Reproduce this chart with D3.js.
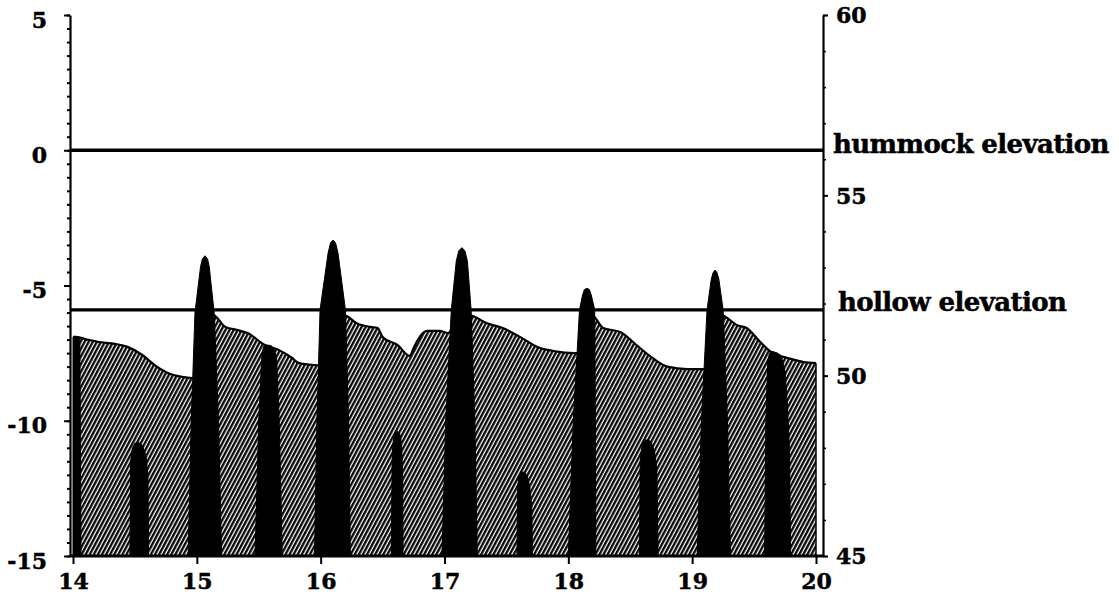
<!DOCTYPE html>
<html>
<head>
<meta charset="utf-8">
<script src="https://cdn.jsdelivr.net/npm/d3@7"></script>
<style>
  body { margin: 0; background: #fff; }
  svg text { font-family: "DejaVu Serif", serif; font-weight: bold; fill: #000; stroke: #000; stroke-width: 0.5px; }
</style>
</head>
<body>
<svg id="fig" width="1119" height="596"></svg>
<script>

// water table (hatched), left axis units
var tableDays   = [14.0, 14.02, 14.10, 14.20, 14.34, 14.44, 14.56, 14.66, 14.77, 14.88, 14.96, 15.04, 15.10,
                   15.15, 15.23, 15.33, 15.41, 15.55, 15.66, 15.77, 15.82, 15.95, 16.0, 16.12,
                   16.21, 16.29, 16.40, 16.46, 16.50, 16.62, 16.72, 16.75, 16.80, 16.86, 16.96, 17.03, 17.12,
                   17.23, 17.34, 17.47, 17.61, 17.75, 17.88, 18.05, 18.10, 18.17,
                   18.21, 18.28, 18.42, 18.55, 18.68, 18.80, 18.96, 19.09, 19.12, 19.22,
                   19.27, 19.36, 19.44, 19.55, 19.65, 19.77, 19.90, 20.0];
var tableLevels = [-6.9, -6.9, -6.98, -7.08, -7.16, -7.27, -7.57, -7.94, -8.24, -8.38, -8.42, -8.4, -6.0,
                   -6.13, -6.53, -6.65, -6.76, -7.2, -7.38, -7.68, -7.86, -7.94, -7.95, -6.05,
                   -6.13, -6.39, -6.53, -6.57, -6.9, -7.2, -7.6, -7.31, -6.9, -6.68, -6.68, -6.76, -6.05,
                   -6.13, -6.39, -6.57, -6.9, -7.27, -7.42, -7.5, -7.5, -6.05,
                   -6.16, -6.57, -6.72, -7.2, -7.68, -8.0, -8.09, -8.09, -8.09, -6.05,
                   -6.16, -6.46, -6.57, -7.09, -7.5, -7.68, -7.83, -7.87];

// black spikes, left axis units (-15 = floor)
var spikeDays   = [14.0, 14.055, 14.065,
                   14.46, 14.465, 14.48, 14.50, 14.53, 14.56, 14.59, 14.605, 14.61,
                   14.93, 14.955, 14.985, 15.03, 15.045, 15.066, 15.087, 15.10, 15.14, 15.175, 15.2,
                   15.47, 15.50, 15.525, 15.54, 15.56, 15.60, 15.63, 15.645, 15.665, 15.69,
                   15.95, 15.97, 15.995, 16.06, 16.08, 16.10, 16.12, 16.14, 16.20, 16.225, 16.24,
                   16.57, 16.578, 16.59, 16.605, 16.625, 16.645, 16.655, 16.662, 16.665,
                   16.98, 17.01, 17.055, 17.095, 17.115, 17.14, 17.165, 17.185, 17.215, 17.245, 17.265,
                   17.585, 17.59, 17.60, 17.62, 17.645, 17.67, 17.69, 17.705, 17.71,
                   18.0, 18.04, 18.09, 18.115, 18.13, 18.15, 18.17, 18.185, 18.213, 18.218, 18.222,
                   18.575, 18.58, 18.595, 18.62, 18.645, 18.67, 18.695, 18.715, 18.725,
                   19.04, 19.075, 19.12, 19.155, 19.17, 19.185, 19.20, 19.215, 19.25, 19.285, 19.31,
                   19.585, 19.595, 19.61, 19.625, 19.645, 19.69, 19.72, 19.75, 19.77, 19.785, 19.795];
var spikeLevels = [-6.9, -6.95, -15,
                   -15, -11.5, -11.0, -10.83, -10.8, -10.9, -11.3, -12, -15,
                   -15, -10, -6, -4.3, -4.02, -3.9, -4.02, -4.3, -6, -10, -15,
                   -15, -10, -7.6, -7.25, -7.2, -7.22, -7.4, -7.8, -10, -15,
                   -15, -10, -5.9, -3.8, -3.42, -3.32, -3.42, -3.8, -5.9, -10, -15,
                   -15, -11.2, -10.6, -10.42, -10.4, -10.55, -11.0, -12, -15,
                   -15, -10, -5.9, -4.1, -3.72, -3.6, -3.72, -4.1, -5.9, -10, -15,
                   -15, -12.5, -12.05, -11.9, -11.9, -12.05, -12.5, -13.2, -15,
                   -15, -10, -5.9, -5.35, -5.15, -5.1, -5.15, -5.35, -5.9, -10, -15,
                   -15, -11.5, -10.9, -10.72, -10.7, -10.8, -11.1, -11.8, -15,
                   -15, -10, -5.9, -4.75, -4.52, -4.43, -4.52, -4.75, -5.9, -10, -15,
                   -15, -10, -7.8, -7.5, -7.43, -7.5, -7.6, -8.2, -9.5, -11, -15];

var refLevels = [0, -5.9];
var refLabels = ["hummock elevation", "hollow elevation"];

var leftTicks  = [-15, -10, -5, 0, 5];
var rightTicks = [45, 50, 55, 60];
var dayTicks   = [14, 15, 16, 17, 18, 19, 20];

var svg = d3.select("#fig");

var x  = d3.scaleLinear().domain([14, 20]).range([73, 816]);
var yL = d3.scaleLinear().domain([-15, 5]).range([556, 15]);
var yR = d3.scaleLinear().domain([45, 60]).range([556, 15]);

var leftX = 70, rightX = 823;

// hatch pattern
var defs = svg.append("defs");
var pat = defs.append("pattern")
    .attr("id", "hatch")
    .attr("patternUnits", "userSpaceOnUse")
    .attr("width", 3.6).attr("height", 10)
    .attr("patternTransform", "rotate(28)");
pat.append("rect").attr("width", 3.6).attr("height", 10).attr("fill", "#fff");
pat.append("line").attr("x1", 1.2).attr("y1", 0).attr("x2", 1.2).attr("y2", 10)
    .attr("stroke", "#000").attr("stroke-width", 2.3);

var table = tableDays.map(function(d, i){ return [d, tableLevels[i]]; });
var spikes = spikeDays.map(function(d, i){ return [d, spikeLevels[i]]; });

var tableArea = d3.area()
    .x(function(d){ return x(d[0]); })
    .y0(yL(-15))
    .y1(function(d){ return yL(d[1]); })
    .curve(d3.curveMonotoneX);

svg.append("path").datum(table)
    .attr("d", tableArea)
    .attr("fill", "url(#hatch)");

svg.append("path").datum(table)
    .attr("d", tableArea.lineY1())
    .attr("fill", "none").attr("stroke", "#000").attr("stroke-width", 2.2);

// right edge of hatched block
svg.append("line")
    .attr("x1", x(20)).attr("x2", x(20))
    .attr("y1", yL(tableLevels[tableLevels.length - 1])).attr("y2", yL(-15))
    .attr("stroke", "#000").attr("stroke-width", 1.5);

var spikeArea = d3.area()
    .x(function(d){ return x(d[0]); })
    .y0(yL(-15))
    .y1(function(d){ return yL(d[1]); })
    .curve(d3.curveLinear);

svg.append("path").datum(spikes)
    .attr("d", spikeArea)
    .attr("fill", "#000")
    .attr("stroke", "#000").attr("stroke-width", 1).attr("stroke-linejoin", "round");

// reference lines + labels
refLevels.forEach(function(v, i){
    svg.append("line")
        .attr("x1", leftX).attr("x2", rightX)
        .attr("y1", yL(v)).attr("y2", yL(v))
        .attr("stroke", "#000").attr("stroke-width", 3.4);
});
svg.append("text").attr("x", 833).attr("y", 153)
    .style("font-size", "26px").style("letter-spacing", "-0.6px")
    .text(refLabels[0]);
svg.append("text").attr("x", 838).attr("y", 311)
    .style("font-size", "26px").style("letter-spacing", "-0.6px")
    .text(refLabels[1]);

// left axis
var gL = svg.append("g").attr("transform", "translate(" + leftX + ",0)");
gL.call(d3.axisLeft(yL).tickValues(d3.range(-15, 5.01, 0.5)).tickSize(3).tickSizeOuter(0).tickFormat(""));
gL.selectAll(".tick line").attr("stroke-width", 2);
gL.select(".domain").attr("stroke-width", 2.2);
var gL2 = svg.append("g").attr("transform", "translate(" + leftX + ",0)");
gL2.call(d3.axisLeft(yL).tickValues(leftTicks).tickSize(6).tickPadding(17).tickSizeOuter(0)
    .tickFormat(function(d){ return String(d); }));
gL2.select(".domain").remove();
gL2.selectAll(".tick line").attr("stroke-width", 2);
gL2.selectAll(".tick text")
    .attr("dy", "0.55em")
    .style("font-size", "22px");

// right axis
var gR = svg.append("g").attr("transform", "translate(" + rightX + ",0)");
gR.call(d3.axisRight(yR).tickValues(d3.range(45, 60.01, 1)).tickSize(3).tickSizeOuter(0).tickFormat(""));
gR.select(".domain").attr("stroke-width", 2.2);
gR.selectAll(".tick line").attr("stroke-width", 1.5);
var gR2 = svg.append("g").attr("transform", "translate(" + rightX + ",0)");
gR2.call(d3.axisRight(yR).tickValues(rightTicks).tickSize(5).tickPadding(8).tickSizeOuter(0)
    .tickFormat(function(d){ return String(d); }));
gR2.select(".domain").remove();
gR2.selectAll(".tick line").attr("stroke-width", 2);
gR2.selectAll(".tick text")
    .attr("dy", "0.36em")
    .style("font-size", "22px");

// bottom axis
svg.append("line")
    .attr("x1", leftX).attr("x2", rightX)
    .attr("y1", yL(-15)).attr("y2", yL(-15))
    .attr("stroke", "#000").attr("stroke-width", 3);
var gB = svg.append("g").attr("transform", "translate(0," + yL(-15) + ")");
gB.call(d3.axisBottom(x).tickValues(dayTicks).tickSize(8).tickPadding(9).tickSizeOuter(0)
    .tickFormat(d3.format("d")));
gB.select(".domain").remove();
gB.selectAll(".tick line").attr("stroke-width", 2);
gB.selectAll(".tick text")
    .attr("dy", "0.73em")
    .style("font-size", "22px");

</script>
</body>
</html>
